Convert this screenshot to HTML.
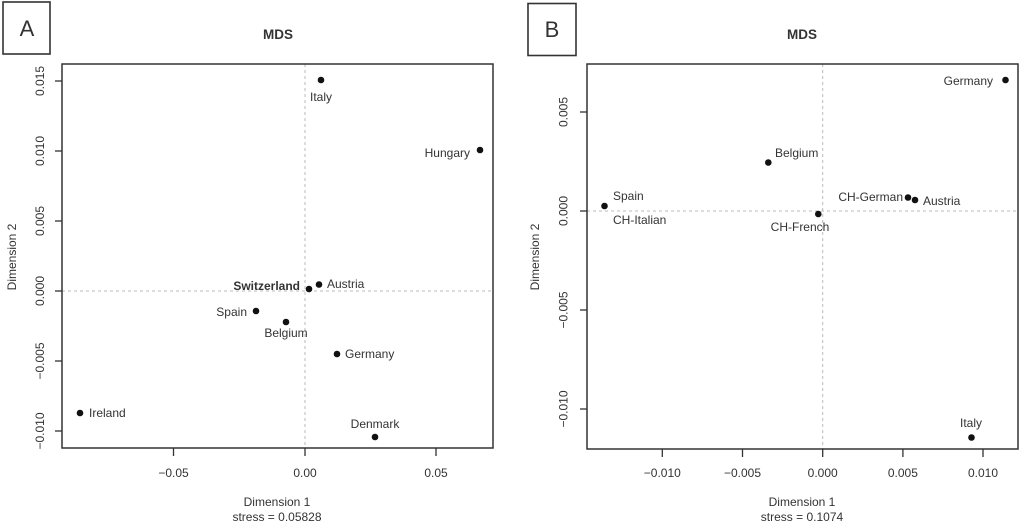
<!DOCTYPE html>
<html>
<head>
<meta charset="utf-8">
<style>
html,body{margin:0;padding:0;background:#fff;}
svg{display:block;}
text{font-family:"Liberation Sans",Arial,sans-serif;fill:#333;}
</style>
</head>
<body>
<svg width="1022" height="525" viewBox="0 0 1022 525" xmlns="http://www.w3.org/2000/svg">
<!-- Panel labels -->
<rect x="3" y="2" width="47" height="52" fill="none" stroke="#333" stroke-width="1.6"/>
<text x="27" y="36" font-size="22" text-anchor="middle" fill="#222">A</text>
<rect x="528" y="3.5" width="48" height="52" fill="none" stroke="#333" stroke-width="1.6"/>
<text x="552" y="37" font-size="22" text-anchor="middle" fill="#222">B</text>

<!-- ===== Panel A ===== -->
<text x="278" y="39" font-size="13.5" font-weight="bold" text-anchor="middle">MDS</text>
<line x1="305" y1="64" x2="305" y2="448" stroke="#bbb" stroke-width="1" stroke-dasharray="3,3"/>
<line x1="62" y1="291" x2="493" y2="291" stroke="#bbb" stroke-width="1" stroke-dasharray="3,3"/>
<rect x="62" y="64" width="431" height="384" fill="none" stroke="#333" stroke-width="1.5"/>
<!-- x ticks -->
<g stroke="#333" stroke-width="1.3">
<line x1="173.5" y1="448" x2="173.5" y2="456"/>
<line x1="305" y1="448" x2="305" y2="456"/>
<line x1="436" y1="448" x2="436" y2="456"/>
<line x1="62" y1="81" x2="55" y2="81"/>
<line x1="62" y1="151" x2="55" y2="151"/>
<line x1="62" y1="221" x2="55" y2="221"/>
<line x1="62" y1="291" x2="55" y2="291"/>
<line x1="62" y1="361" x2="55" y2="361"/>
<line x1="62" y1="431" x2="55" y2="431"/>
</g>
<g font-size="12" text-anchor="middle">
<text x="173.5" y="477">−0.05</text>
<text x="305" y="477">0.00</text>
<text x="436" y="477">0.05</text>
<text transform="translate(44,81) rotate(-90)">0.015</text>
<text transform="translate(44,151) rotate(-90)">0.010</text>
<text transform="translate(44,221) rotate(-90)">0.005</text>
<text transform="translate(44,291) rotate(-90)">0.000</text>
<text transform="translate(44,361) rotate(-90)">−0.005</text>
<text transform="translate(44,431) rotate(-90)">−0.010</text>
<text x="277" y="506">Dimension 1</text>
<text x="277" y="521">stress = 0.05828</text>
<text transform="translate(16,257) rotate(-90)">Dimension 2</text>
</g>
<g fill="#111">
<circle cx="321" cy="80" r="3.3"/>
<circle cx="480" cy="150" r="3.3"/>
<circle cx="309" cy="289" r="3.3"/>
<circle cx="319" cy="284.5" r="3.3"/>
<circle cx="256" cy="311" r="3.3"/>
<circle cx="286" cy="322" r="3.3"/>
<circle cx="337" cy="354" r="3.3"/>
<circle cx="80" cy="413" r="3.3"/>
<circle cx="375" cy="437" r="3.3"/>
</g>
<g font-size="12">
<text x="321" y="101" text-anchor="middle">Italy</text>
<text x="470" y="157" text-anchor="end">Hungary</text>
<text x="300" y="290" text-anchor="end" font-weight="bold">Switzerland</text>
<text x="327" y="288">Austria</text>
<text x="247" y="316" text-anchor="end">Spain</text>
<text x="286" y="337" text-anchor="middle">Belgium</text>
<text x="345" y="358">Germany</text>
<text x="89" y="417">Ireland</text>
<text x="375" y="428" text-anchor="middle">Denmark</text>
</g>

<!-- ===== Panel B ===== -->
<text x="802" y="39" font-size="13.5" font-weight="bold" text-anchor="middle">MDS</text>
<line x1="822.7" y1="64" x2="822.7" y2="449" stroke="#bbb" stroke-width="1" stroke-dasharray="3,3"/>
<line x1="587" y1="211" x2="1018" y2="211" stroke="#bbb" stroke-width="1" stroke-dasharray="3,3"/>
<rect x="587" y="64" width="431" height="385" fill="none" stroke="#333" stroke-width="1.5"/>
<g stroke="#333" stroke-width="1.3">
<line x1="662.3" y1="449" x2="662.3" y2="457"/>
<line x1="742.5" y1="449" x2="742.5" y2="457"/>
<line x1="822.7" y1="449" x2="822.7" y2="457"/>
<line x1="902.9" y1="449" x2="902.9" y2="457"/>
<line x1="983" y1="449" x2="983" y2="457"/>
<line x1="587" y1="112" x2="580" y2="112"/>
<line x1="587" y1="211" x2="580" y2="211"/>
<line x1="587" y1="310" x2="580" y2="310"/>
<line x1="587" y1="409" x2="580" y2="409"/>
</g>
<g font-size="12" text-anchor="middle">
<text x="662.3" y="477">−0.010</text>
<text x="742.5" y="477">−0.005</text>
<text x="822.7" y="477">0.000</text>
<text x="902.9" y="477">0.005</text>
<text x="983" y="477">0.010</text>
<text transform="translate(567.5,112) rotate(-90)">0.005</text>
<text transform="translate(567.5,211) rotate(-90)">0.000</text>
<text transform="translate(567.5,310) rotate(-90)">−0.005</text>
<text transform="translate(567.5,409) rotate(-90)">−0.010</text>
<text x="802" y="506">Dimension 1</text>
<text x="802" y="521">stress = 0.1074</text>
<text transform="translate(539,257) rotate(-90)">Dimension 2</text>
</g>
<g fill="#111">
<circle cx="1005.5" cy="80" r="3.3"/>
<circle cx="768.3" cy="162.5" r="3.3"/>
<circle cx="604.5" cy="206" r="3.3"/>
<circle cx="818.3" cy="214" r="3.3"/>
<circle cx="908" cy="197.5" r="3.3"/>
<circle cx="915" cy="200" r="3.3"/>
<circle cx="971.5" cy="437.5" r="3.3"/>
</g>
<g font-size="12">
<text x="993" y="85" text-anchor="end">Germany</text>
<text x="775" y="157">Belgium</text>
<text x="613" y="200">Spain</text>
<text x="613" y="224">CH-Italian</text>
<text x="800" y="231" text-anchor="middle">CH-French</text>
<text x="903" y="201" text-anchor="end">CH-German</text>
<text x="923" y="205">Austria</text>
<text x="971" y="427" text-anchor="middle">Italy</text>
</g>
</svg>
</body>
</html>
